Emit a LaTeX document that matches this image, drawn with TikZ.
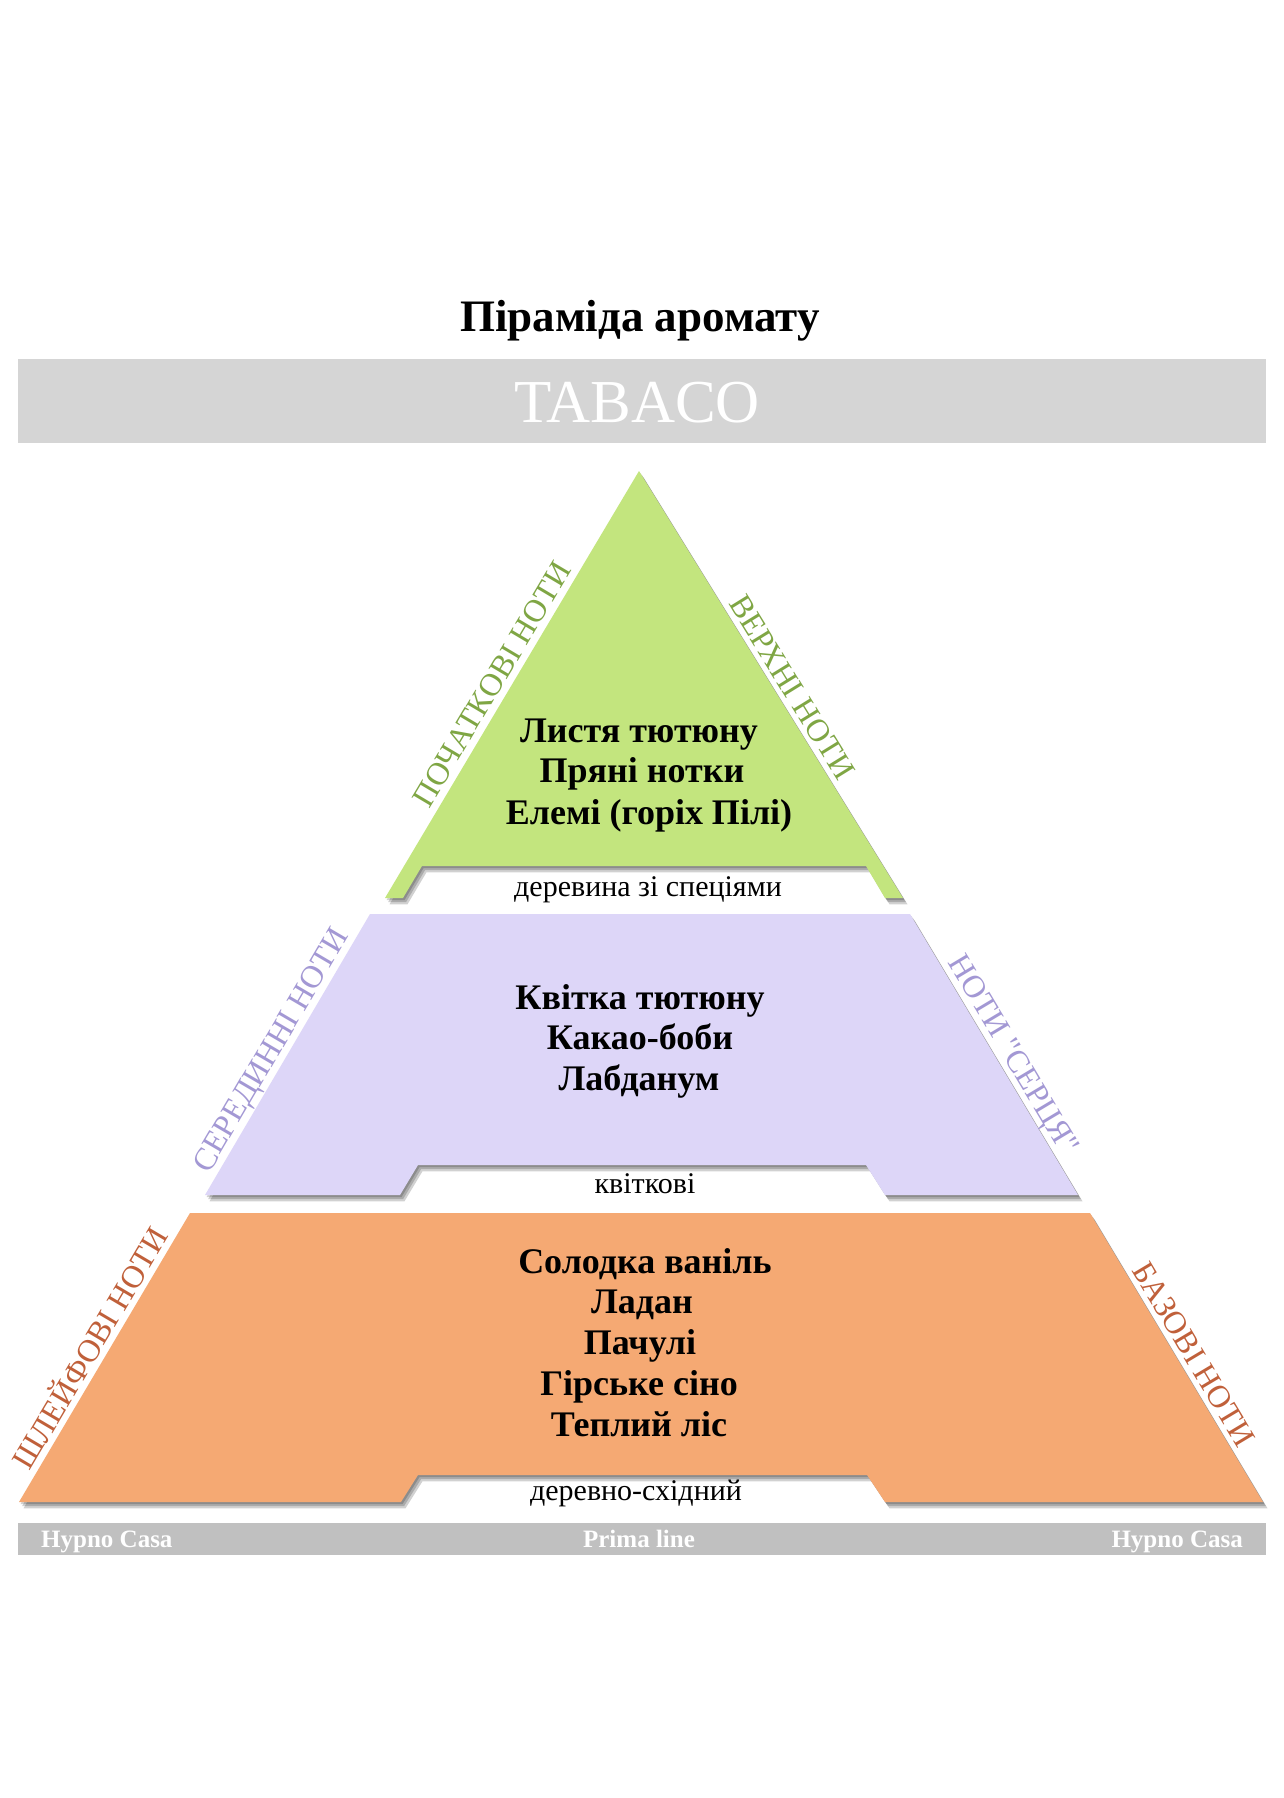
\documentclass[tikz,border=0pt]{standalone}
\usepackage{fontspec}
\setmainfont{Liberation Serif}
\newfontfamily\rawserif[Ligatures=TeXOff]{Liberation Serif}
\usetikzlibrary{calc}
\definecolor{grfill}{HTML}{C3E57E}
\definecolor{grtext}{HTML}{7FA644}
\definecolor{pufill}{HTML}{DDD6F8}
\definecolor{putext}{HTML}{A398D4}
\definecolor{orfill}{HTML}{F5A973}
\definecolor{ortext}{HTML}{C0603A}
\definecolor{bannergray}{HTML}{D5D5D5}
\definecolor{bargray}{HTML}{C0C0C0}
\newcommand\greenpath{(639,471) -- (903,898) -- (885,898) -- (866,866) -- (422,866) -- (403,898) -- (385,898) -- cycle}
\newcommand\purplepath{(370,914) -- (910,914) -- (1078,1195) -- (885,1195) -- (866,1165) -- (418,1165) -- (400,1195) -- (205,1195) -- cycle}
\newcommand\orangepath{(190,1213) -- (1090,1213) -- (1263,1502) -- (885,1502) -- (867,1475) -- (418,1475) -- (401,1502) -- (19,1502) -- cycle}
\tikzset{
  notetext/.style={font=\bfseries\fontsize{36}{40}\selectfont, anchor=base, inner sep=0pt},
  smalltext/.style={font=\fontsize{30}{34}\selectfont, anchor=base, inner sep=0pt},
  sidetext/.style={font=\fontsize{32}{34}\selectfont, anchor=base, inner sep=0pt},
  bartext/.style={font=\bfseries\fontsize{25}{27}\selectfont, text=white, inner sep=0pt},
  shadowlayer/.style={fill=black, fill opacity=0.18},
}
\begin{document}
\begin{tikzpicture}[x=1pt,y=-1pt]
\useasboundingbox (0,0) rectangle (1284,1798);
\fill[white] (0,0) rectangle (1284,1798);
% title
\node[font=\bfseries\fontsize{45}{48}\selectfont, anchor=base, inner sep=0pt] (title) at (640,331) {Піраміда аромату};
% banner
\fill[bannergray] (18,359) rectangle (1266,443);
\node[font=\fontsize{61}{63}\selectfont, text=white, anchor=base, inner sep=0pt] (tabaco) at (637,422) {TABACO};
% shadows
\foreach \s in {1.5,3,4.5} {
  \fill[shadowlayer, shift={(\s,1.4*\s)}] \greenpath;
  \fill[shadowlayer, shift={(\s,1.4*\s)}] \purplepath;
  \fill[shadowlayer, shift={(\s,1.4*\s)}] \orangepath;
}
% tiers
\fill[grfill] \greenpath;
\fill[pufill] \purplepath;
\fill[orfill] \orangepath;
% green texts
\node[notetext] (g1) at (639,742) {Листя тютюну};
\node[notetext] (g2) at (642,782) {Пряні нотки};
\node[notetext] (g3) at (649,824) {Елемі (горіх Пілі)};
\node[smalltext] (gs) at (648,896) {деревина зі спеціями};
% purple texts
\node[notetext] (p1) at (640,1009) {Квітка тютюну};
\node[notetext] (p2) at (640,1049) {Какао-боби};
\node[notetext] (p3) at (639,1090) {Лабданум};
\node[smalltext] (ps) at (645,1193) {квіткові};
% orange texts
\node[notetext] (o1) at (645,1273) {Солодка ваніль};
\node[notetext] (o2) at (642,1313) {Ладан};
\node[notetext] (o3) at (640,1354) {Пачулі};
\node[notetext] (o4) at (639,1395) {Гірське сіно};
\node[notetext] (o5) at (639,1436) {Теплий ліс};
\node[smalltext] (os) at (636,1500) {деревно-східний};
% side labels
\node[sidetext, text=grtext, rotate=59.25] (gl) at ($(385,898)!0.48!(639,471)!7pt!90:(639,471)$) {ПОЧАТКОВІ НОТИ};
\node[sidetext, text=grtext, rotate=-58.3] (gr) at ($(639,471)!0.527!(903,898)!6pt!90:(903,898)$) {ВЕРХНІ НОТИ};
\node[sidetext, text=putext, rotate=59.6] (pl) at ($(205,1195)!0.486!(370,914)!7pt!90:(370,914)$) {СЕРЕДИННІ НОТИ};
\node[sidetext, text=putext, rotate=-59.1, font=\rawserif\fontsize{32}{34}\selectfont] (pr) at ($(910,914)!0.532!(1078,1195)!7pt!90:(1078,1195)$) {НОТИ "СЕРЦЯ"};
\node[sidetext, text=ortext, rotate=59.4] (ol) at ($(19,1502)!0.502!(190,1213)!6pt!90:(190,1213)$) {ШЛЕЙФОВІ НОТИ};
\node[sidetext, text=ortext, rotate=-59.1] (or) at ($(1090,1213)!0.519!(1263,1502)!6pt!90:(1263,1502)$) {БАЗОВІ НОТИ};
% bottom bar
\fill[bargray] (18,1523) rectangle (1266,1555);
\node[bartext, anchor=base west] (hc1) at (41,1547) {Hypno Casa};
\node[bartext, anchor=base] (pl1) at (639,1547) {Prima line};
\node[bartext, anchor=base east] (hc2) at (1243,1547) {Hypno Casa};
\end{tikzpicture}
\end{document}
